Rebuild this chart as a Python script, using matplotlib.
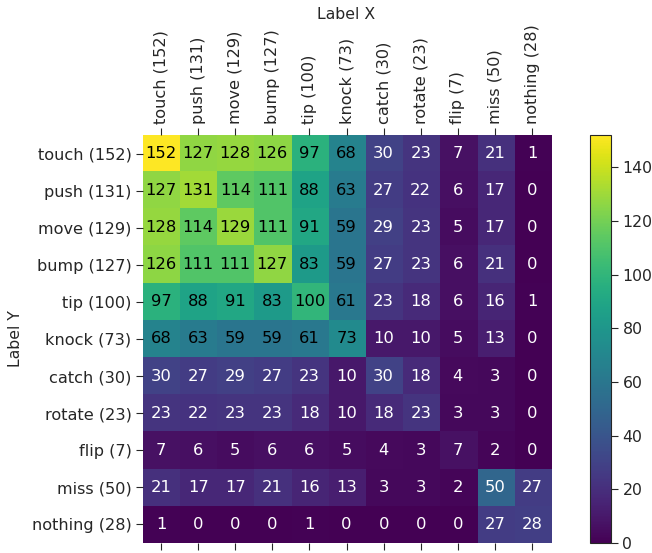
import numpy as np
import matplotlib
matplotlib.use("Agg")
import matplotlib.pyplot as plt

labels = ["touch (152)", "push (131)", "move (129)", "bump (127)", "tip (100)",
          "knock (73)", "catch (30)", "rotate (23)", "flip (7)", "miss (50)", "nothing (28)"]

counts = [
    [152, 127, 128, 126, 97, 68, 30, 23, 7, 21, 1],
    [127, 131, 114, 111, 88, 63, 27, 22, 6, 17, 0],
    [128, 114, 129, 111, 91, 59, 29, 23, 5, 17, 0],
    [126, 111, 111, 127, 83, 59, 27, 23, 6, 21, 0],
    [97, 88, 91, 83, 100, 61, 23, 18, 6, 16, 1],
    [68, 63, 59, 59, 61, 73, 10, 10, 5, 13, 0],
    [30, 27, 29, 27, 23, 10, 30, 18, 4, 3, 0],
    [23, 22, 23, 23, 18, 10, 18, 23, 3, 3, 0],
    [7, 6, 5, 6, 6, 5, 4, 3, 7, 2, 0],
    [21, 17, 17, 21, 16, 13, 3, 3, 2, 50, 27],
    [1, 0, 0, 0, 1, 0, 0, 0, 0, 27, 28],
]

data = np.array(counts)
txt = "#262626"
plt.rcParams["font.family"] = "DejaVu Sans"

fig = plt.figure(figsize=(6.52, 5.53), dpi=100)
ax = fig.add_axes([0.2186, 0.0181, 0.6258, 0.7378])
cax = fig.add_axes([0.9045, 0.0181, 0.032, 0.7378])

im = ax.imshow(data, cmap="viridis", vmin=0, vmax=data.max(), aspect="auto")

for i in range(data.shape[0]):
    for j in range(data.shape[1]):
        v = data[i, j]
        ax.text(j, i, str(v), ha="center", va="center", fontsize=11.8,
                color="black" if v > 55 else "white")

ax.set_xticks(range(len(labels)))
ax.set_yticks(range(len(labels)))
ax.set_xticklabels(labels, rotation=90, fontsize=11.6, color=txt)
ax.set_yticklabels(labels, fontsize=11.6, color=txt)
ax.tick_params(top=True, labeltop=True, bottom=True, labelbottom=False,
               length=5, color=txt, pad=3)
for s in ax.spines.values():
    s.set_visible(False)
ax.xaxis.set_label_position("top")
ax.set_xlabel("Label X", fontsize=11.3, color=txt, labelpad=4)
ax.set_ylabel("Label Y", fontsize=11.3, color=txt, labelpad=6)

cb = fig.colorbar(im, cax=cax)
cb.set_ticks([0, 20, 40, 60, 80, 100, 120, 140])
cb.ax.tick_params(labelsize=11.3, labelcolor=txt, color=txt, length=5)
cb.outline.set_edgecolor(txt)

fig.savefig("out.png", dpi=100)
